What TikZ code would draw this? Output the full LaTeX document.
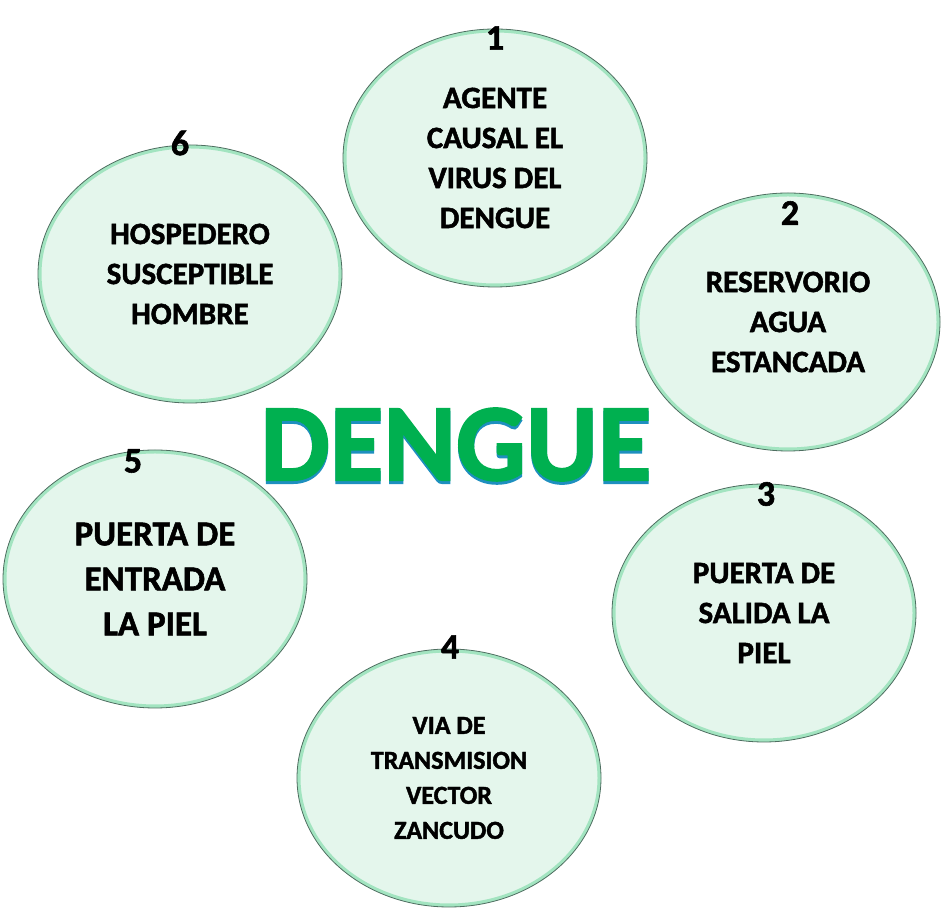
\documentclass[tikz,border=0pt]{standalone}
\usepackage{fontspec}
\setmainfont{Carlito}[BoldFeatures={FakeBold=1.6}]
\usetikzlibrary{shapes.geometric}
\definecolor{mint}{HTML}{E4F6EC}
\definecolor{rim}{HTML}{A2E4C0}
\definecolor{edge}{HTML}{4F6E61}
\definecolor{dgreen}{HTML}{00B050}
\definecolor{dblue}{HTML}{1E8FBF}
\tikzset{
  bubble/.style={ellipse, fill=mint, draw=edge, line width=0.8pt, inner sep=0pt,
    minimum width=304pt, minimum height=258pt, align=center,
    path picture={\draw[rim, line width=7pt] (path picture bounding box.center)
      ellipse [x radius=152pt, y radius=129pt];}},
  num/.style={font=\fontsize{36}{36}\selectfont\bfseries},
  txt/.style={font=\fontsize{31}{40}\selectfont\bfseries}
}
\newcommand{\shadowed}[1]{\rlap{\raisebox{-3pt}{\textcolor{dblue}{#1}}}\textcolor{dgreen}{#1}}
\begin{document}
\begin{tikzpicture}[x=1pt, y=1pt]
	\path [use as bounding box] (0,0) rectangle (942,910);
	% the six links of the chain
	\node[bubble, txt] (agente) at (495,752) {AGENTE\\CAUSAL EL\\VIRUS DEL\\DENGUE};
	\node[bubble, txt] (reserv) at (788,588) {RESERVORIO\\AGUA\\ESTANCADA};
	\node[bubble, txt] (salida) at (764,297) {PUERTA DE\\SALIDA LA\\PIEL};
	\node[bubble, font=\fontsize{26}{35}\selectfont\bfseries] (via) at (449,132) {VIA DE\\TRANSMISION\\VECTOR\\ZANCUDO};
	\node[bubble, font=\fontsize{35}{45}\selectfont\bfseries] (entrada) at (155,331) {PUERTA DE\\ENTRADA\\LA PIEL};
	\node[bubble, txt] (hosp) at (190,636) {HOSPEDERO\\SUSCEPTIBLE\\HOMBRE};
	% numbers
	\node[num] (n1) at (495,872) {1};
	\node[num] (n2) at (790,697) {2};
	\node[num] (n3) at (766,416) {3};
	\node[num] (n4) at (450,263) {4};
	\node[num] (n5) at (133,449) {5};
	\node[num] (n6) at (180,767) {6};
	% title
	\node[font=\fontsize{110}{110}\selectfont\bfseries] (title) at (456,464) {\shadowed{DENGUE}};
\end{tikzpicture}
\end{document}
